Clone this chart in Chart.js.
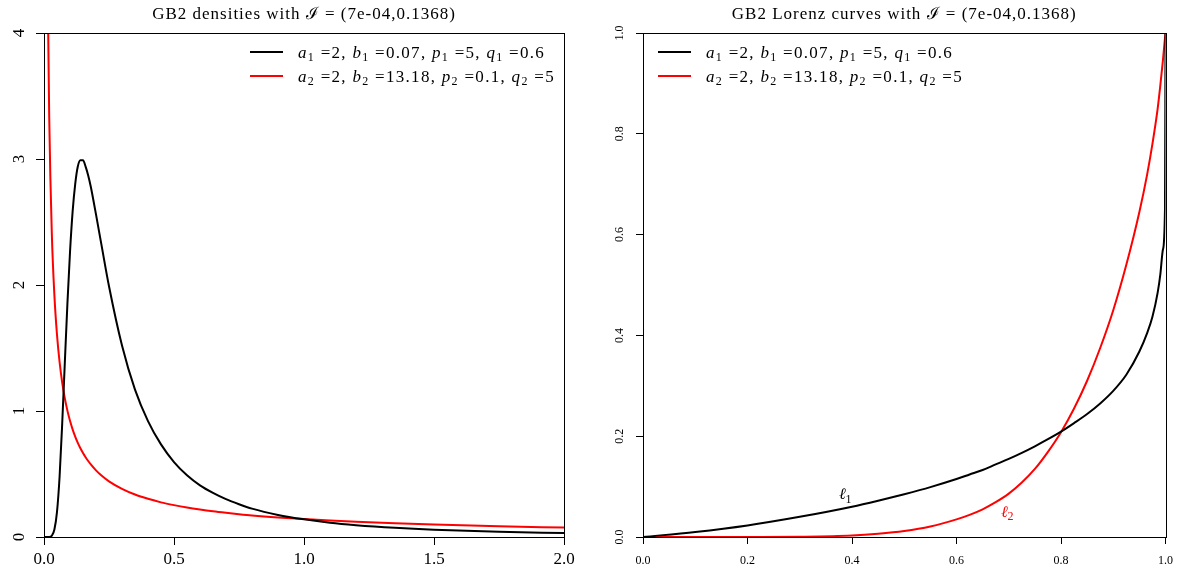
<!DOCTYPE html>
<html>
<head>
<meta charset="utf-8">
<script src="https://cdn.jsdelivr.net/npm/chart.js@4.4.1/dist/chart.umd.min.js"></script>
<style>
    body { margin: 0; background: #fff; }
    #wrap { display: flex; width: 1183px; height: 574px; }
</style>
</head>
<body>
<div id="wrap">
    <canvas id="densityChart" width="592" height="574"></canvas>
    <canvas id="lorenzChart" width="591" height="574"></canvas>
</div>
<script>
// values
const densityX = [0, 0.005, 0.01, 0.015, 0.02, 0.03, 0.04, 0.05, 0.06, 0.07, 0.08, 0.09, 0.10, 0.11, 0.12, 0.13, 0.14, 0.15, 0.16, 0.17, 0.18, 0.20, 0.22, 0.25, 0.30, 0.35, 0.40, 0.45, 0.50, 0.55, 0.60, 0.65, 0.70, 0.75, 0.80, 0.90, 1.00, 1.10, 1.20, 1.35, 1.50, 1.75, 2.00];
const density1 = [0, 0, 0, 0, 0, 0.01, 0.06, 0.20, 0.48, 0.90, 1.38, 1.85, 2.26, 2.58, 2.80, 2.94, 2.99, 2.99, 2.94, 2.87, 2.78, 2.56, 2.33, 1.99, 1.52, 1.17, 0.92, 0.735, 0.595, 0.49, 0.41, 0.35, 0.30, 0.26, 0.225, 0.175, 0.14, 0.113, 0.094, 0.073, 0.058, 0.042, 0.031];
const density2 = [null, 10.1, 5.82, 4.20, 3.34, 2.415, 1.918, 1.605, 1.387, 1.226, 1.102, 1.003, 0.922, 0.854, 0.797, 0.747, 0.704, 0.666, 0.633, 0.603, 0.576, 0.529, 0.490, 0.442, 0.382, 0.337, 0.303, 0.275, 0.253, 0.234, 0.218, 0.204, 0.192, 0.181, 0.171, 0.155, 0.142, 0.131, 0.121, 0.109, 0.099, 0.085, 0.075];

const lorenzX = [0, 0.1, 0.2, 0.3, 0.4, 0.45, 0.5, 0.55, 0.6, 0.625, 0.65, 0.675, 0.7, 0.725, 0.75, 0.775, 0.8, 0.825, 0.85, 0.875, 0.9, 0.925, 0.95, 0.965, 0.975, 0.985, 0.99, 0.995, 0.999, 1];
const lorenz1 = [0, 0.010, 0.023, 0.040, 0.060, 0.072, 0.085, 0.099, 0.115, 0.124, 0.133, 0.144, 0.155, 0.167, 0.180, 0.194, 0.209, 0.226, 0.244, 0.265, 0.290, 0.322, 0.368, 0.405, 0.437, 0.485, 0.52, 0.57, 0.65, 1];
const lorenz2 = [0, 0, 0.0001, 0.0006, 0.003, 0.0065, 0.012, 0.021, 0.035, 0.044, 0.055, 0.069, 0.086, 0.108, 0.135, 0.169, 0.208, 0.255, 0.31, 0.375, 0.45, 0.54, 0.645, 0.72, 0.78, 0.85, 0.895, 0.945, 0.99, 1];

const densityXTicks = [0, 0.5, 1, 1.5, 2];
const densityYTicks = [0, 1, 2, 3, 4];
const lorenzTicks = [0, 0.2, 0.4, 0.6, 0.8, 1];

const paramNames = ['a', 'b', 'p', 'q'];
const params1 = [2, 0.07, 5, 0.6];
const params2 = [2, 13.18, 0.1, 5];
const seriesColors = ['#000000', '#ff0000'];

const serif = '"Liberation Serif", "DejaVu Serif", serif';

function toPoints(xs, ys) {
    return xs.map((x, i) => ({ x: x, y: ys[i] }));
}

function legendParts(vals, k) {
    const parts = [];
    paramNames.forEach((n, i) => {
        parts.push([n, 'i'], [String(k), 's'], [' =' + vals[i] + (i < paramNames.length - 1 ? ', ' : ''), 'n']);
    });
    return parts;
}

function drawRich(ctx, x, y, parts, size, color, spacing) {
    let cx = x;
    ctx.fillStyle = color;
    ctx.textAlign = 'left';
    ctx.textBaseline = 'alphabetic';
    ctx.letterSpacing = (spacing || 0) + 'px';
    parts.forEach(([t, s]) => {
        const fs = s === 's' ? Math.round(size * 0.72) : size;
        ctx.font = (s === 'i' ? 'italic ' : '') + fs + 'px ' + serif;
        ctx.fillText(t, cx, s === 's' ? y + size * 0.22 : y);
        cx += ctx.measureText(t).width;
    });
    ctx.letterSpacing = '0px';
}

function framePlugin(cfg) {
    return {
        id: 'frame',
        afterDraw(chart) {
            const { ctx, chartArea: a, scales: { x, y } } = chart;
            ctx.save();
            ctx.strokeStyle = '#000';
            ctx.lineWidth = 1;
            ctx.strokeRect(Math.round(a.left) + 0.5, Math.round(a.top) + 0.5, Math.round(a.right - a.left), Math.round(a.bottom - a.top));

            // title
            ctx.fillStyle = '#000';
            ctx.font = cfg.titleSize + 'px ' + serif;
            ctx.letterSpacing = '1px';
            ctx.textAlign = 'center';
            ctx.textBaseline = 'middle';
            ctx.fillText(cfg.title, (a.left + a.right) / 2, cfg.titleY);
            ctx.letterSpacing = '0px';

            // y tick labels, turned like R does
            ctx.font = cfg.tickSize + 'px ' + serif;
            y.ticks.forEach(t => {
                ctx.save();
                ctx.translate(a.left - cfg.yLabelGap, y.getPixelForValue(t.value));
                ctx.rotate(-Math.PI / 2);
                ctx.textAlign = 'center';
                ctx.textBaseline = 'middle';
                ctx.fillText(cfg.yFormat(t.value), 0, 0);
                ctx.restore();
            });

            cfg.legend.forEach((item, i) => {
                const ly = cfg.legendY + i * cfg.legendRow;
                ctx.strokeStyle = item.color;
                ctx.lineWidth = 2;
                ctx.beginPath();
                ctx.moveTo(cfg.legendX, ly);
                ctx.lineTo(cfg.legendX + 33, ly);
                ctx.stroke();
                drawRich(ctx, cfg.legendX + 48, ly + cfg.legendSize * 0.33, item.parts, cfg.legendSize, '#000', 1.3);
            });

            (cfg.notes || []).forEach(n => {
                drawRich(ctx, x.getPixelForValue(n.x), y.getPixelForValue(n.y), [['\u2113', 'i'], [n.k, 's']], 16, n.color);
            });
            ctx.restore();
        }
    };
}

function axes(xMin, xMax, xStep, yMin, yMax, yStep, tickSize, tickLen, pad, xFormat) {
    return {
        x: {
            type: 'linear', min: xMin, max: xMax,
            border: { display: false },
            grid: { drawOnChartArea: false, drawTicks: true, tickLength: tickLen, color: '#000', tickColor: '#000' },
            ticks: { stepSize: xStep, padding: pad, color: '#000', font: { family: serif, size: tickSize }, maxRotation: 0, callback: xFormat },
            afterFit: s => { s.height = 37; }
        },
        y: {
            type: 'linear', min: yMin, max: yMax,
            border: { display: false },
            grid: { drawOnChartArea: false, drawTicks: true, tickLength: tickLen, color: '#000', tickColor: '#000' },
            ticks: { stepSize: yStep, display: false },
            afterFit: s => { s.width = 44; }
        }
    };
}

function lineSet(points, color) {
    return {
        data: points,
        borderColor: color,
        borderWidth: 2,
        pointRadius: 0,
        fill: false,
        cubicInterpolationMode: 'monotone'
    };
}

const ctxDensity = document.getElementById('densityChart').getContext('2d');
const ctxLorenz = document.getElementById('lorenzChart').getContext('2d');

const densityChart = new Chart(ctxDensity, {
    type: 'line',
    data: {
        datasets: [
            lineSet(toPoints(densityX, density1), seriesColors[0]),
            lineSet(toPoints(densityX, density2), seriesColors[1])
        ]
    },
    options: {
        responsive: false,
        animation: false,
        layout: { padding: { top: 33, right: 28, left: 0, bottom: 0 } },
        plugins: { legend: { display: false }, tooltip: { enabled: false } },
        scales: axes(densityXTicks[0], densityXTicks[densityXTicks.length - 1], 0.5,
            densityYTicks[0], densityYTicks[densityYTicks.length - 1], 1, 17, 8, 4, v => v.toFixed(1))
    },
    plugins: [framePlugin({
        title: 'GB2 densities with \u2110 = (7e-04,0.1368)',
        titleSize: 17, titleY: 15,
        tickSize: 17, yLabelGap: 24, yFormat: v => String(v),
        legendX: 250, legendY: 52, legendRow: 24, legendSize: 17,
        legend: [
            { color: seriesColors[0], parts: legendParts(params1, 1) },
            { color: seriesColors[1], parts: legendParts(params2, 2) }
        ]
    })]
});

const lorenzChart = new Chart(ctxLorenz, {
    type: 'line',
    data: {
        datasets: [
            lineSet(toPoints(lorenzX, lorenz1), seriesColors[0]),
            lineSet(toPoints(lorenzX, lorenz2), seriesColors[1])
        ]
    },
    options: {
        responsive: false,
        animation: false,
        layout: { padding: { top: 33, right: 17, left: 7, bottom: 0 } },
        plugins: { legend: { display: false }, tooltip: { enabled: false } },
        scales: axes(lorenzTicks[0], lorenzTicks[lorenzTicks.length - 1], 0.2,
            lorenzTicks[0], lorenzTicks[lorenzTicks.length - 1], 0.2, 12, 7, 10, v => v.toFixed(1))
    },
    plugins: [framePlugin({
        title: 'GB2 Lorenz curves with \u2110 = (7e-04,0.1368)',
        titleSize: 17, titleY: 15,
        tickSize: 12, yLabelGap: 23, yFormat: v => v.toFixed(1),
        legendX: 66, legendY: 52, legendRow: 24, legendSize: 17,
        legend: [
            { color: seriesColors[0], parts: legendParts(params1, 1) },
            { color: seriesColors[1], parts: legendParts(params2, 2) }
        ],
        notes: [
            { x: 0.375, y: 0.075, k: '1', color: seriesColors[0] },
            { x: 0.685, y: 0.04, k: '2', color: seriesColors[1] }
        ]
    })]
});
</script>
</body>
</html>
